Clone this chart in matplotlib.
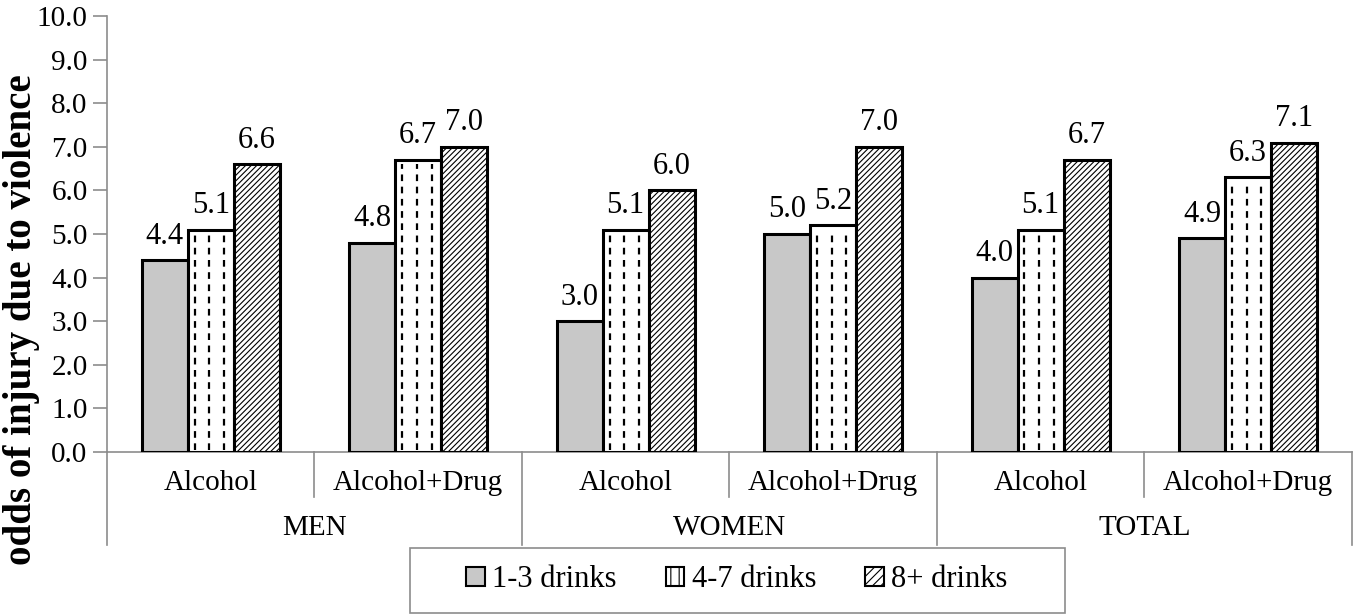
import numpy as np
import matplotlib.pyplot as plt
from matplotlib.patches import Patch, Rectangle

plt.rcParams['font.family'] = ['Liberation Serif', 'DejaVu Serif']
plt.rcParams['hatch.linewidth'] = 0.8

categories = ['Alcohol', 'Alcohol+Drug', 'Alcohol', 'Alcohol+Drug', 'Alcohol', 'Alcohol+Drug']
groups = ['MEN', 'WOMEN', 'TOTAL']
series = ['1-3 drinks', '4-7 drinks', '8+ drinks']
drinks_1_3 = [4.4, 4.8, 3.0, 5.0, 4.0, 4.9]
drinks_4_7 = [5.1, 6.7, 5.1, 5.2, 5.1, 6.3]
drinks_8p = [6.6, 7.0, 6.0, 7.0, 6.7, 7.1]

fig = plt.figure(figsize=(13.56, 6.14), dpi=100)
ax = fig.add_axes([0.0789, 0.2638, 0.918, 0.710])

x = np.arange(len(categories))
w = 0.222
axis_grey = '#8c8c8c'

b1 = ax.bar(x - w, drinks_1_3, w, color='#c8c8c8', edgecolor='black', linewidth=2.2, zorder=3)
b2 = ax.bar(x, drinks_4_7, w, color='white', edgecolor='black', linewidth=2.2, zorder=3)
b3 = ax.bar(x + w, drinks_8p, w, color='white', edgecolor='black', linewidth=2.2,
            hatch='//////', zorder=3)

# dashed vertical pattern for the 4-7 drinks bars
for bar in b2:
    bx, bw, bh = bar.get_x(), bar.get_width(), bar.get_height()
    for f in [0.15, 0.47, 0.79]:
        ax.vlines(bx + bw * f, 0.05, bh - 0.1, colors='black', linewidth=1.6,
                  linestyles=(0, (3, 2.5)), zorder=4)

for bars in [b1, b2, b3]:
    for bar in bars:
        h = bar.get_height()
        ax.text(bar.get_x() + bar.get_width() / 2, h + 0.22, f'{h:.1f}',
                ha='center', va='bottom', fontsize=22, zorder=5)

ax.set_ylim(0, 10)
ax.set_xlim(-0.5, len(categories) - 0.5)
ax.set_yticks(np.arange(0, 11, 1))
ax.set_yticklabels([f'{v:.1f}' for v in np.arange(0, 11, 1)], fontsize=21)
ax.set_xticks([])
ax.tick_params(axis='y', direction='out', length=10, color=axis_grey, width=1.2, pad=4)
for s in ['top', 'right']:
    ax.spines[s].set_visible(False)
ax.spines['left'].set_color(axis_grey)
ax.spines['bottom'].set_color(axis_grey)
ax.spines['left'].set_linewidth(1.2)
ax.spines['bottom'].set_linewidth(1.2)

# multi-level category axis
trans = ax.get_xaxis_transform()
for i in range(len(categories) + 1):
    xe = i - 0.5
    y_end = -0.213 if i % 2 == 0 else -0.103
    ax.plot([xe, xe], [0, y_end], color=axis_grey, linewidth=1.2, transform=trans, clip_on=False)
for i, c in enumerate(categories):
    ax.text(i, -0.072, c, ha='center', va='center', fontsize=21, transform=trans)
for g, name in enumerate(groups):
    ax.text(2 * g + 0.5, -0.175, name, ha='center', va='center', fontsize=21, transform=trans)

fig.text(0.016, 0.48, 'odds of injury due to violence', rotation=90, ha='center', va='center',
         fontsize=28, fontweight='bold')

# legend box
fig.patches.append(Rectangle((410 / 1356, 1 / 614), (1065 - 410) / 1356, 65 / 614,
                             transform=fig.transFigure, facecolor='white',
                             edgecolor=axis_grey, linewidth=1.2))
handles = [Patch(facecolor='#c8c8c8', edgecolor='black', linewidth=1.5),
           Patch(facecolor='white', edgecolor='black', linewidth=1.5, hatch='||'),
           Patch(facecolor='white', edgecolor='black', linewidth=1.5, hatch='////')]
leg = fig.legend(handles, series, loc='center', ncol=3,
                 bbox_to_anchor=(0.5435, 0.0554), bbox_transform=fig.transFigure,
                 fontsize=22, frameon=False,
                 handlelength=0.6, handleheight=0.6, handletextpad=0.25,
                 columnspacing=1.6, borderpad=0.3, borderaxespad=0)

fig.savefig('out.png', dpi=100)
